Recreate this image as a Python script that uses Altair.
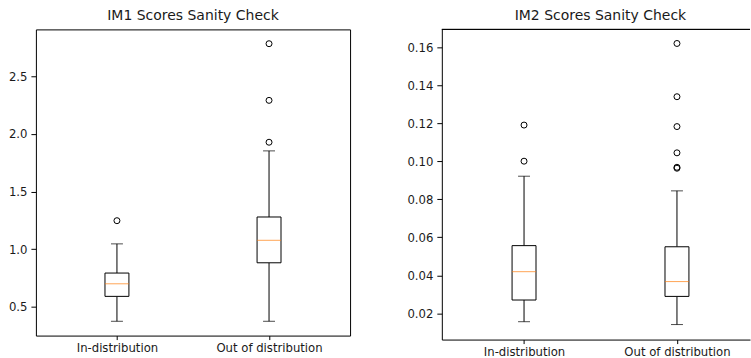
import altair as alt
import pandas as pd

categories = ["In-distribution", "Out of distribution"]
positions = [1, 2]

# IM1 box statistics (per category)
im1_low = [0.376, 0.376]
im1_q1 = [0.592, 0.883]
im1_median = [0.701, 1.078]
im1_q3 = [0.794, 1.280]
im1_high = [1.047, 1.853]
im1_outlier_pos = [1, 2, 2, 2]
im1_outlier_val = [1.248, 1.928, 2.291, 2.782]
im1_ticks = [0.5, 1.0, 1.5, 2.0, 2.5]

# IM2 box statistics (per category)
im2_low = [0.0156, 0.0141]
im2_q1 = [0.0270, 0.0289]
im2_median = [0.0419, 0.0367]
im2_q3 = [0.0556, 0.0550]
im2_high = [0.0921, 0.0844]
im2_outlier_pos = [1, 1, 2, 2, 2, 2, 2, 2]
im2_outlier_val = [0.1000, 0.1190, 0.0963, 0.0968, 0.1044, 0.1182, 0.1339, 0.1619]
im2_ticks = [0.02, 0.04, 0.06, 0.08, 0.10, 0.12, 0.14, 0.16]

FONT = "DejaVu Sans"
TXT = "#1a1a1a"
label_expr = " : ".join(
    f"datum.value == {p} ? '{c}'" for p, c in zip(positions, categories)
) + " : ''"


def panel(title, low, q1, med, q3, high, opos, oval, ydomain, yticks, fmt,
          xdomain, width, height, full_frame, title_dx):
    stats = pd.DataFrame({"pos": positions, "cat": categories, "low": low,
                          "q1": q1, "med": med, "q3": q3, "high": high})
    outl = pd.DataFrame({"pos": opos, "val": oval})
    xscale = alt.Scale(domain=xdomain, nice=False, zero=False)
    yscale = alt.Scale(domain=ydomain, nice=False, zero=False)
    xaxis = alt.Axis(values=positions, labelExpr=label_expr, title=None,
                     grid=False, domain=not full_frame, domainColor="black",
                     tickSize=4, labelPadding=3, labelAngle=0)
    yaxis = alt.Axis(values=yticks, format=fmt, title=None, grid=False,
                     domain=not full_frame, domainColor="black",
                     tickSize=5, labelPadding=4)
    x = alt.X("pos:Q", scale=xscale, axis=xaxis)
    base = alt.Chart(stats)
    whisk_lo = base.mark_rule(color="black", strokeWidth=1).encode(
        x=x, y=alt.Y("low:Q", scale=yscale, axis=yaxis), y2="q1:Q")
    whisk_hi = base.mark_rule(color="black", strokeWidth=1).encode(
        x=alt.X("pos:Q"), y=alt.Y("q3:Q", title=None), y2="high:Q")
    box = base.mark_bar(size=24, orient="vertical", fill="white",
                        stroke="black", strokeWidth=1).encode(
        x=alt.X("pos:Q"), y=alt.Y("q1:Q", title=None), y2="q3:Q")
    median = base.mark_tick(orient="horizontal", size=24, thickness=1,
                            color="#ff7f0e").encode(
        x=alt.X("pos:Q"), y=alt.Y("med:Q", title=None))
    cap_lo = base.mark_tick(orient="horizontal", size=12, thickness=1,
                            color="black").encode(
        x=alt.X("pos:Q"), y=alt.Y("low:Q", title=None))
    cap_hi = base.mark_tick(orient="horizontal", size=12, thickness=1,
                            color="black").encode(
        x=alt.X("pos:Q"), y=alt.Y("high:Q", title=None))
    pts = alt.Chart(outl).mark_point(shape="circle", filled=False,
                                     color="black", size=36,
                                     strokeWidth=1, opacity=1).encode(
        x=alt.X("pos:Q"), y=alt.Y("val:Q", title=None))
    layers = [whisk_lo, whisk_hi, box, median, cap_lo, cap_hi, pts]
    if not full_frame:
        # top edge of the frame (right edge is cut off in the reference)
        top = alt.Chart(stats).mark_rule(color="black", strokeWidth=1).encode(
            x=alt.value(0), x2=alt.value(width), y=alt.value(0))
        layers.append(top)
    ch = alt.layer(*layers).properties(
        width=width, height=height,
        title=alt.TitleParams(title, font=FONT, fontSize=14,
                              fontWeight="normal", color=TXT, dx=title_dx,
                              offset=6),
        view=alt.ViewBackground(stroke="black" if full_frame else "transparent",
                                strokeWidth=1),
    )
    return ch


left = panel("IM1 Scores Sanity Check", im1_low, im1_q1, im1_median, im1_q3,
             im1_high, im1_outlier_pos, im1_outlier_val, [0.252, 2.906],
             im1_ticks, ".1f", [0.5, 2.5], 315, 307, True, 0)
right = panel("IM2 Scores Sanity Check", im2_low, im2_q1, im2_median, im2_q3,
              im2_high, im2_outlier_pos, im2_outlier_val, [0.0062, 0.1693],
              im2_ticks, ".2f", [0.495, 2.445], 309, 311, False, 4.5)

chart = alt.hconcat(left, right, spacing=55).properties(
    padding={"left": 7, "top": 8, "right": 0, "bottom": 0},
    background="white",
).configure_axis(
    labelFont=FONT, labelFontSize=11.7, labelColor=TXT, tickColor="black",
    domainWidth=1, tickWidth=1,
).configure_title(anchor="middle")

chart.save("out.html", embed_options={"renderer": "svg", "actions": False})
